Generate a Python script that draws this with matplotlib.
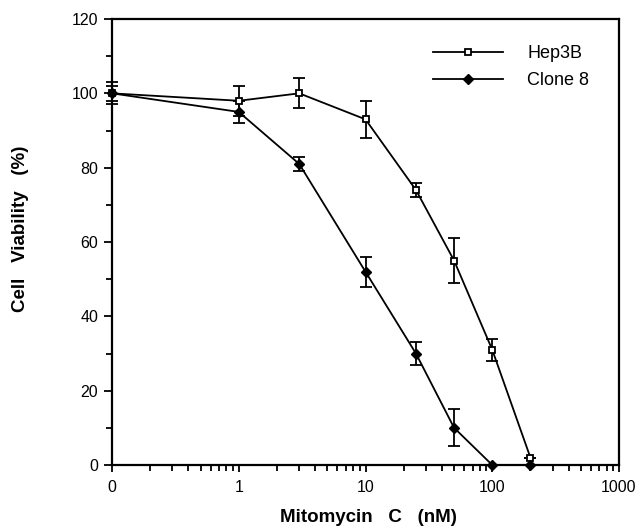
import matplotlib
matplotlib.use("Agg")
import matplotlib.pyplot as plt
from matplotlib.lines import Line2D
from matplotlib.ticker import LogLocator, FixedLocator, NullFormatter

plt.rcParams['font.family'] = ['Liberation Sans', 'DejaVu Sans']

dose = [0.1, 1, 3, 10, 25, 50, 100, 200]
hep3b = [100, 98, 100, 93, 74, 55, 31, 2]
hep3b_err = [3, 4, 4, 5, 2, 6, 3, 0]
clone8 = [100, 95, 81, 52, 30, 10, 0, 0]
clone8_err = [2, 3, 2, 4, 3, 5, 0, 0]

xticks = [0.1, 1, 10, 100, 1000]
xticklabels = ['0', '1', '10', '100', '1000']
yticks = [0, 20, 40, 60, 80, 100, 120]

fig = plt.figure(figsize=(6.42, 5.29), dpi=100)
ax = fig.add_axes([112/642, 64/529, (619-112)/642, (465-19)/529])

sq_style = dict(color='black', lw=1.3, marker='s', ms=5, mfc='white', mec='black', mew=1.3)
di_style = dict(color='black', lw=1.3, marker='D', ms=5, mfc='black', mec='black')

c1 = ax.errorbar(dose, hep3b, yerr=hep3b_err, capsize=4, capthick=1.3,
                 elinewidth=1.3, zorder=3, clip_on=False, **sq_style)
c2 = ax.errorbar(dose, clone8, yerr=clone8_err, capsize=4, capthick=1.3,
                 elinewidth=1.3, zorder=3, clip_on=False, **di_style)
for c in (c1, c2):
    for art in list(c.lines[1]) + list(c.lines[2]):
        art.set_clip_on(False)

ax.set_xscale('log')
ax.set_xlim(0.1, 1000)
ax.set_ylim(0, 120)
ax.xaxis.set_major_locator(FixedLocator(xticks))
ax.set_xticklabels(xticklabels)
ax.xaxis.set_minor_locator(LogLocator(base=10, subs=range(2, 10)))
ax.xaxis.set_minor_formatter(NullFormatter())
ax.set_yticks(yticks)
ax.yaxis.set_minor_locator(FixedLocator([10, 30, 50, 70, 90, 110]))

ax.tick_params(axis='both', which='major', direction='out', length=6, width=1.3,
               labelsize=11.5, colors='black')
ax.tick_params(axis='both', which='minor', direction='out', length=4, width=1.3)
ax.tick_params(axis='x', which='major', length=5, pad=6)
ax.tick_params(axis='y', which='major', pad=4)
for s in ax.spines.values():
    s.set_linewidth(1.6)

ax.set_xlabel('Mitomycin   C   (nM)', fontsize=13.5, fontweight='bold')
ax.xaxis.set_label_coords((368 - 112) / 507, (465 - 509) / 446)
ax.set_ylabel('Cell   Viability   (%)', fontsize=13.5, fontweight='bold')
ax.yaxis.set_label_coords((29 - 112) / 507, (465 - 229) / 446)

handles = [Line2D([], [], **sq_style), Line2D([], [], **di_style)]
ax.legend(handles, ['Hep3B', 'Clone 8'], loc='upper left',
          bbox_to_anchor=((433 - 112) / 507, (465 - 45) / 446), frameon=False,
          fontsize=13, handlelength=3.9, handletextpad=1.33,
          labelspacing=0.58, borderaxespad=0, borderpad=0)

fig.savefig('out.png', dpi=100)
